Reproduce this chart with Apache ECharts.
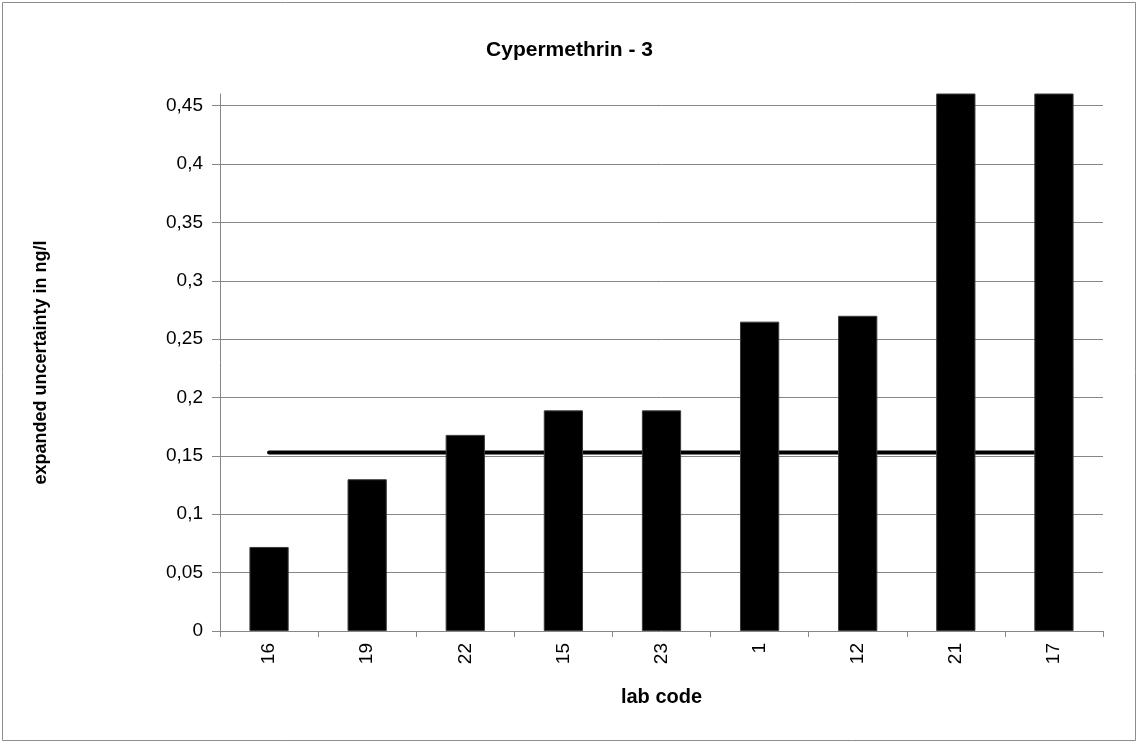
<!DOCTYPE html>
<html><head><meta charset="utf-8">
<script src="https://cdn.jsdelivr.net/npm/echarts@6/dist/echarts.min.js"></script>
<style>html,body{margin:0;padding:0;background:#fff}#c{width:1139px;height:744px}</style>
</head><body><div id="c"></div>
<script>
const categories = ['16','19','22','15','23','1','12','21','17'];
const uncertainty = [0.072, 0.13, 0.168, 0.189, 0.189, 0.265, 0.27, 0.5, 0.5];
const targetValue = 0.153;
const targetLine = categories.map(() => targetValue);
const gridTicks = [0.05, 0.1, 0.15, 0.2, 0.25, 0.3, 0.35, 0.4, 0.45];
const yMax = 0.46;

const FONT = 'Liberation Sans';
const chart = echarts.init(document.getElementById('c'));
chart.setOption({
  animation: false,
  textStyle: {fontFamily: FONT},
  graphic: [{type: 'rect', shape: {x: 2.5, y: 2.5, width: 1133, height: 738}, style: {fill: 'none', stroke: '#8c8c8c', lineWidth: 1}, z: -10}],
  title: {text: 'Cypermethrin - 3', left: 'center', top: 35, textStyle: {fontFamily: FONT, fontWeight: 'bold', fontSize: 21, color: '#000'}},
  grid: {left: 220, right: 36, top: 94, bottom: 113},
  xAxis: {
    type: 'category', data: categories,
    name: 'lab code', nameLocation: 'middle', nameGap: 56,
    nameTextStyle: {fontFamily: FONT, fontWeight: 'bold', fontSize: 20, color: '#000'},
    axisLine: {lineStyle: {color: '#868686', width: 1}},
    axisTick: {show: true, alignWithLabel: false, length: 6, lineStyle: {color: '#868686'}},
    axisLabel: {rotate: 90, fontFamily: FONT, fontSize: 19, color: '#000', margin: 12}
  },
  yAxis: {
    type: 'value', min: 0, max: yMax, interval: 0.05,
    name: 'expanded uncertainty in ng/l', nameLocation: 'middle', nameGap: 170, nameRotate: 90,
    nameTextStyle: {fontFamily: FONT, fontWeight: 'bold', fontSize: 18, color: '#000'},
    axisLine: {show: true, lineStyle: {color: '#868686', width: 1}},
    axisTick: {show: true, length: 8, lineStyle: {color: '#868686'}},
    splitLine: {show: false},
    axisLabel: {showMaxLabel: false, fontFamily: FONT, fontSize: 19, color: '#000', margin: 17,
      formatter: v => (v > 0.455 ? '' : String(Math.round(v * 100) / 100).replace('.', ','))}
  },
  series: [
    {
      type: 'line', data: targetLine, z: 3, symbol: 'none', silent: true,
      lineStyle: {color: '#000', width: 4, cap: 'round'}
    },
    {
      type: 'bar', data: uncertainty, barWidth: '40%', z: 4,
      itemStyle: {color: '#000', borderColor: '#3a3a3a', borderWidth: 1},
      markLine: {
        silent: true, symbol: 'none', z: 1, label: {show: false},
        lineStyle: {color: '#868686', width: 1, type: 'solid'},
        data: gridTicks.map(v => ({yAxis: v}))
      }
    }
  ]
});
</script></body></html>
